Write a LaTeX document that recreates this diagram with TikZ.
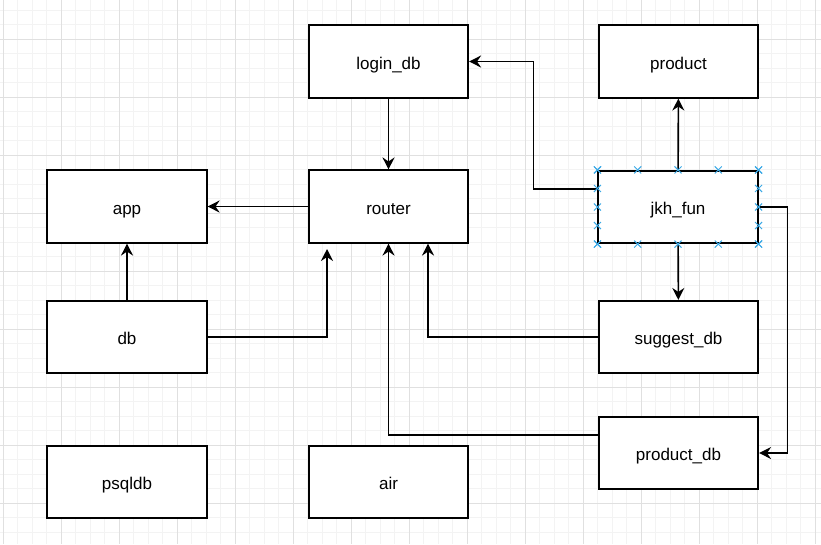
\documentclass[tikz,border=0pt]{standalone}
\usepackage{fontspec}
\setmainfont{Liberation Sans}
\usepackage{tikz}
\usetikzlibrary{arrows.meta,positioning,calc,shapes.misc}
\definecolor{gMinor}{HTML}{F3F3F3}
\definecolor{gMajor}{HTML}{E0E0E0}
\definecolor{cSel}{HTML}{3BA9E6}
\tikzset{
  box/.style={draw=black,line width=1.6pt,fill=white,minimum width=159.5pt,
              minimum height=72.5pt,inner sep=0pt,text height=18pt,text depth=3pt,
              font=\fontsize{17}{20}\selectfont},
  link/.style={-{Stealth[length=12pt,width=12pt,inset=4pt]},line width=1.6pt},
  hcross/.style={cross out,draw=cSel,line width=1pt,minimum size=6pt,inner sep=0pt},
}

\begin{document}
\begin{tikzpicture}[x=1pt,y=-1pt]
  \useasboundingbox (0,0) rectangle (821,544);
  % grid
  \foreach \k in {0,...,56}{\draw[gMinor,line width=0.8pt] ({3+14.5*\k},0) -- ({3+14.5*\k},544);}
  \foreach \k in {0,...,36}{\draw[gMinor,line width=0.8pt] (0,{10+14.5*\k}) -- (821,{10+14.5*\k});}
  \foreach \k in {0,...,14}{\draw[gMajor,line width=0.9pt] ({3+58*\k},0) -- ({3+58*\k},544);}
  \foreach \k in {0,...,8}{\draw[gMajor,line width=0.9pt] (0,{39+58*\k}) -- (821,{39+58*\k});}

  % boxes
  \node[box] (login)   at (388.5,61.5) {login\_db};
  \node[box] (product) at (678.5,61.5) {product};
  \node[box] (app)     at (127,206.5)  {app};
  \node[box] (router)  at (388.5,206.5){router};
  \node[box] (jkh)     at (678,207)    {jkh\_fun};
  \node[box] (db)      at (127,337)    {db};
  \node[box] (suggest) at (678.5,337)  {suggest\_db};
  \node[box] (psql)    at (127,482)    {psqldb};
  \node[box] (air)     at (388.5,482)  {air};
  \node[box] (proddb)  at (678.5,453)  {product\_db};
  \coordinate (dbin) at (327,249);

  % links
  \draw[link] (login) -- (router);
  \draw[link] (router) -- (app);
  \draw[link] (db) -- (app);
  \draw[link] (db.east) -| (dbin);
  \draw[link] (suggest.west) -| ([xshift=39.5pt]router.south);
  \draw[link] ([yshift=18pt]proddb.west) -| (router.south);
  \draw[link] (jkh) -- (product);
  \draw[link] (jkh) -- (suggest);
  \draw[link] ([yshift=18pt]jkh.west) -- ++(-64,0) |- (login.east);
  \draw[link] (jkh.east) -- ++(29,0) |- (proddb.east);

  % selection handles on jkh_fun
  \foreach \f in {0,0.25,0.5,0.75,1}{
    \node[hcross] at ($(jkh.north west)!\f!(jkh.north east)$) {};
    \node[hcross] at ($(jkh.south west)!\f!(jkh.south east)$) {};
    \node[hcross] at ($(jkh.north west)!\f!(jkh.south west)$) {};
    \node[hcross] at ($(jkh.north east)!\f!(jkh.south east)$) {};
  }
\end{tikzpicture}
\end{document}
